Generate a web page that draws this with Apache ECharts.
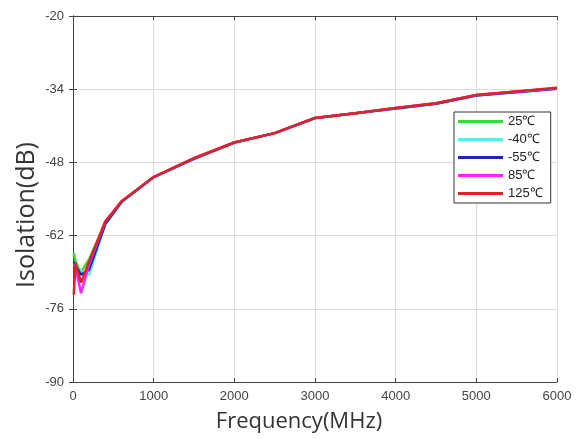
<!DOCTYPE html>
<html>
<head>
<meta charset="utf-8">
<script src="https://cdn.jsdelivr.net/npm/echarts@6/dist/echarts.min.js"></script>
<style>html,body{margin:0;padding:0;background:#fff;}#c{width:580px;height:439px;}</style>
</head>
<body>
<div id="c"></div>
<script>
var freqs = [10, 30, 100, 200, 400, 600, 1000, 1500, 2000, 2500, 3000, 3500, 4000, 4500, 5000, 6000];
var s25  = [-65.3, -66.9, -69.0, -66.5, -59.5, -55.5, -50.8, -47.2, -44.2, -42.4, -39.5, -38.6, -37.6, -36.7, -35.1, -33.8];
var sm40 = [-67.0, -67.5, -68.8, -69.5, -59.8, -55.6, -50.8, -47.3, -44.2, -42.4, -39.5, -38.6, -37.7, -36.8, -35.2, -33.9];
var sm55 = [-67.0, -67.2, -69.5, -68.5, -59.8, -55.6, -50.8, -47.3, -44.2, -42.4, -39.5, -38.6, -37.7, -36.8, -35.2, -33.9];
var s85  = [-67.5, -68.0, -73.0, -67.5, -59.3, -55.5, -50.8, -47.2, -44.2, -42.4, -39.5, -38.6, -37.6, -36.7, -35.1, -33.8];
var s125 = [-73.3, -67.2, -71.0, -67.0, -59.3, -55.5, -50.8, -47.2, -44.2, -42.4, -39.5, -38.6, -37.6, -36.7, -35.1, -33.7];
var names = ['25℃', '-40℃', '-55℃', '85℃', '125℃'];
var colors = ['#2fe02f', '#55eeee', '#2222b4', '#ff22ff', '#dd2424'];
var xTitle = 'Frequency(MHz)';
var yTitle = 'Isolation(dB)';

function pairs(arr) { return freqs.map(function (f, i) { return [f, arr[i]]; }); }
var allSeries = [s25, sm40, sm55, s85, s125];

var chart = echarts.init(document.getElementById('c'), null, {renderer: 'canvas'});
var axisLine = {show: true, lineStyle: {color: '#444', width: 1}};
var axisTick = {show: true, inside: true, length: 4, lineStyle: {color: '#444'}};
var titleFont = 'Open Sans, Noto Sans, sans-serif';
var tickFont = 'Liberation Sans, Arial, sans-serif';
chart.setOption({
  animation: false,
  backgroundColor: '#fff',
  grid: {left: 73, right: 23, top: 16, bottom: 57, containLabel: false},
  legend: {
    orient: 'vertical', left: 454, top: 112,
    backgroundColor: '#fff', borderColor: '#333', borderWidth: 1,
    padding: [3, 8, 3, 4], itemWidth: 45, itemHeight: 14, itemGap: 5,
    icon: 'path://M0,0 L45,0 L45,3 L0,3 Z',
    textStyle: {fontSize: 13, color: '#222', fontFamily: tickFont},
    data: names
  },
  graphic: [{
    type: 'text', x: 27, y: 215, rotation: Math.PI / 2,
    style: {text: yTitle, fill: '#333', font: '25px ' + titleFont, align: 'center', verticalAlign: 'middle'}
  }, {
    type: 'text', x: 299, y: 422,
    style: {text: xTitle, fill: '#333', font: '22px ' + titleFont, align: 'center', verticalAlign: 'middle'}
  }],
  xAxis: [{
    type: 'value', min: 0, max: 6000, interval: 1000, position: 'bottom',
    axisLine: axisLine, axisTick: axisTick,
    splitLine: {show: true, lineStyle: {color: '#dcdcdc', width: 1}},
    axisLabel: {color: '#444', fontSize: 13, margin: 8, fontFamily: tickFont, formatter: function (v) { return String(v); }}
  }, {
    type: 'value', min: 0, max: 6000, interval: 1000, position: 'top',
    axisLine: axisLine, axisTick: axisTick,
    splitLine: {show: false}, axisLabel: {show: false}
  }],
  yAxis: [{
    type: 'value', min: -90, max: -20, interval: 14, position: 'left',
    axisLine: axisLine, axisTick: axisTick,
    splitLine: {show: true, lineStyle: {color: '#dcdcdc', width: 1}},
    axisLabel: {color: '#444', fontSize: 13, margin: 9, fontFamily: tickFont}
  }, {
    type: 'value', min: -90, max: -20, interval: 14, position: 'right',
    axisLine: axisLine, axisTick: axisTick,
    splitLine: {show: false}, axisLabel: {show: false}
  }],
  series: allSeries.map(function (arr, i) {
    return {
      name: names[i], type: 'line', data: pairs(arr), xAxisIndex: 0, yAxisIndex: 0,
      symbol: 'none', showSymbol: false, smooth: false,
      lineStyle: {color: colors[i], width: 2.5}, itemStyle: {color: colors[i]}
    };
  })
});
</script>
</body>
</html>
